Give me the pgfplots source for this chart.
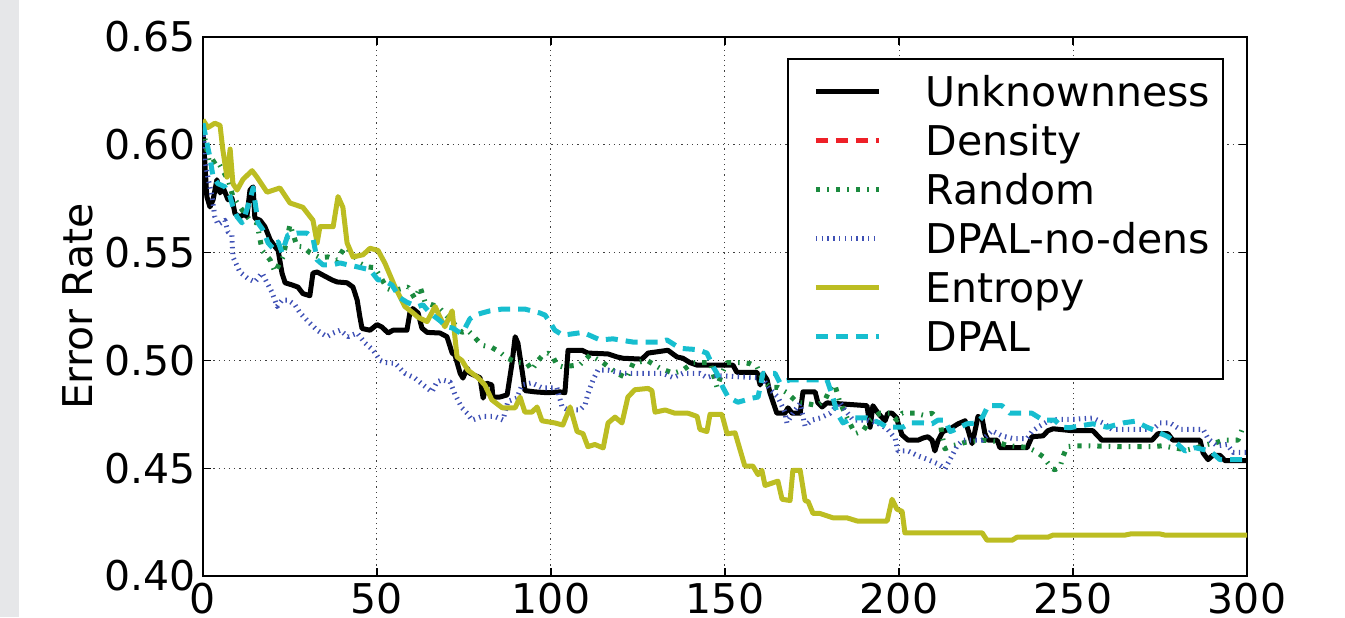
\documentclass[border=0pt]{standalone}
\usepackage{pgfplots}
\pgfplotsset{compat=1.18}
\usepackage{fontspec}
\setmainfont{DejaVu Sans}
\definecolor{cred}{RGB}{238,32,40}
\definecolor{cgreen}{RGB}{27,138,62}
\definecolor{cblue}{RGB}{63,81,181}
\definecolor{colive}{RGB}{188,189,34}
\definecolor{ccyan}{RGB}{23,190,207}
\definecolor{cstrip}{RGB}{230,231,233}
\newcommand{\bigfont}{\fontsize{20.5}{24}\selectfont}
\begin{document}
\begin{tikzpicture}
\begin{axis}[
  at={(0,0)}, anchor=south west,
  width=522pt, height=269.5pt, scale only axis,
  xmin=0, xmax=300, ymin=0.40, ymax=0.65,
  xtick={0,50,100,150,200,250,300},
  ytick={0.40,0.45,0.50,0.55,0.60,0.65},
  yticklabel style={/pgf/number format/.cd, fixed, fixed zerofill, precision=2},
  /pgf/number format/assume math mode=true,
  ticklabel style={font=\bigfont, inner sep=3.5pt},
  label style={font=\bigfont},
  ylabel={Error Rate},
  ylabel style={at={(axis description cs:-0.12,0.5)}, anchor=center},
  grid=major,
  major grid style={black!75, line width=0.5pt, dash pattern=on 0.6pt off 2pt},
  tick align=inside, major tick length=4pt,
  tick style={black, line width=0.6pt},
  axis line style={line width=0.8pt},
  every axis plot/.append style={line width=2.5pt, line join=round},
  legend image code/.code={\path[draw=none] (0pt,0pt) -- (62.5pt,0pt); \draw[#1] (7.5pt,7.5pt) -- (39pt,7.5pt);},
  legend style={at={(rel axis cs:0.5594,0.961)}, anchor=north west,
    draw=black, line width=0.8pt, inner xsep=6.5pt, inner ysep=9pt,
    row sep=5pt, font=\bigfont,
    nodes={inner sep=0pt, text height=15pt, text depth=4.5pt, anchor=base west}},
]
% Unknownness
\addplot[black] coordinates {
(0,0.606)(1.1,0.576)(2.0,0.5712)(2.9,0.5745)(4.0,0.5838)(4.9,0.5777)(5.7,0.5805)(7.2,0.5745)(8.3,0.5754)(9.2,0.568)(10.6,0.5666)(12.1,0.568)(12.6,0.5666)(13.5,0.579)(14.4,0.5805)(14.9,0.566)(16.4,0.565)(17.8,0.562)(19.3,0.556)(20.7,0.5527)(21.6,0.551)(22.7,0.5405)(23.6,0.536)(25.6,0.535)(27.3,0.534)(28.7,0.531)(30.7,0.530)(31.6,0.5405)(32.8,0.541)(35.1,0.539)(37.1,0.5373)(38.5,0.5364)(41.4,0.536)(43.1,0.534)(44.3,0.528)(45.1,0.520)(45.7,0.5148)(48.0,0.514)(50.0,0.5166)(51.4,0.5155)(53.2,0.5127)(54.6,0.514)(58.6,0.514)(59.5,0.5225)(60.3,0.524)(61.8,0.522)(62.9,0.515)(64.4,0.513)(68.1,0.5127)(70.1,0.511)(71.6,0.5034)(72.4,0.5025)(73.9,0.494)(74.7,0.4918)(75.9,0.4964)(76.7,0.494)(79.6,0.492)(80.5,0.4825)(81.6,0.4894)(83.0,0.4886)(83.3,0.483)(85.3,0.483)(87.4,0.484)(88.8,0.4987)(89.7,0.511)(90.5,0.508)(92.0,0.492)(92.5,0.486)(95.4,0.4854)(99.1,0.485)(102.6,0.4854)(104.0,0.485)(104.9,0.5047)(108.9,0.5047)(110.6,0.5034)(116.4,0.503)(119.0,0.5016)(120.7,0.501)(126.1,0.5006)(127.9,0.5034)(133.6,0.5047)(136.2,0.5016)(137.9,0.501)(139.9,0.499)(142.0,0.4978)(152.3,0.4978)(153.4,0.4945)(159.2,0.4945)(160.1,0.4886)(160.9,0.494)(162.1,0.491)(162.9,0.485)(164.9,0.4755)(167.2,0.4755)(168.1,0.478)(169.3,0.4755)(171.6,0.4755)(172.4,0.4854)(175.9,0.4854)(176.7,0.4803)(177.9,0.4784)(179.3,0.4803)(190.8,0.479)(191.7,0.469)(192.5,0.479)(194.0,0.4755)(196.0,0.472)(196.8,0.4755)(198.0,0.4755)(199.4,0.4733)(199.7,0.471)(200.9,0.4654)(202.6,0.463)(205.5,0.463)(206.9,0.464)(208.3,0.4646)(209.5,0.463)(210.3,0.458)(211.2,0.4627)(212.6,0.467)(214.7,0.4683)(217.0,0.4706)(219.0,0.472)(219.8,0.468)(221.0,0.4614)(221.8,0.467)(222.7,0.474)(223.9,0.473)(224.7,0.466)(225.6,0.463)(228.2,0.463)(229.0,0.4595)(236.8,0.4595)(238.2,0.4646)(241.4,0.465)(242.8,0.4674)(244.3,0.4683)(249.7,0.4674)(255.7,0.4674)(258.3,0.463)(272.7,0.463)(274.4,0.466)(277.3,0.466)(278.7,0.463)(286.5,0.463)(287.4,0.457)(288.8,0.454)(290.2,0.456)(292.2,0.456)(293.7,0.4535)(300,0.4535)
};
\addlegendentry{Unknownness}
\addlegendimage{cred, line width=2.5pt, dash pattern=on 6pt off 4pt}
\addlegendentry{Density}
% Random
\addplot[cgreen, dash pattern=on 2.2pt off 3.5pt on 0.8pt off 3.5pt] coordinates {
(0,0.608)(1.1,0.5977)(2.0,0.591)(4.0,0.593)(5.7,0.588)(7.2,0.5838)(8.6,0.576)(10.6,0.5712)(13.5,0.565)(15.5,0.5638)(16.4,0.556)(17.0,0.551)(19.3,0.5466)(20.7,0.541)(23.0,0.548)(25.0,0.563)(27.0,0.553)(28.7,0.5527)(30.7,0.550)(33.6,0.5477)(35.9,0.548)(38.5,0.5466)(40.8,0.5527)(42.8,0.550)(45.1,0.545)(47.1,0.5434)(49.4,0.543)(50.9,0.539)(52.9,0.5334)(54.6,0.5323)(58.9,0.534)(60.9,0.5287)(62.4,0.534)(63.8,0.527)(65.8,0.5258)(67.5,0.525)(69.0,0.5225)(71.6,0.518)(74.4,0.513)(76.1,0.514)(78.2,0.5104)(80.2,0.507)(83.0,0.506)(85.3,0.5038)(87.4,0.501)(90.5,0.499)(93.1,0.4987)(94.5,0.4955)(96.3,0.500)(97.7,0.5025)(99.1,0.5034)(100.6,0.5016)(101.7,0.4978)(103.4,0.497)(108.3,0.498)(111.2,0.5025)(114.9,0.499)(119.0,0.494)(121.8,0.4918)(123.6,0.4987)(127.6,0.500)(131.3,0.4964)(135.1,0.494)(137.9,0.4955)(140.8,0.499)(145.7,0.499)(147.7,0.4875)(149.1,0.494)(150.6,0.499)(155.2,0.499)(157.2,0.4985)(159.2,0.497)(160.9,0.491)(162.9,0.4875)(165.2,0.4875)(167.8,0.485)(170.7,0.4806)(173.6,0.480)(176.4,0.479)(178.7,0.4815)(180.7,0.4885)(181.6,0.4885)(183.0,0.4806)(185.1,0.4733)(187.4,0.466)(189.7,0.4674)(191.7,0.4723)(194.5,0.4755)(197.4,0.4755)(199.4,0.4723)(200.9,0.4755)(204.6,0.4755)(206.9,0.4746)(209.5,0.4755)(211.8,0.4718)(212.4,0.465)(213.2,0.459)(215.2,0.4604)(217.0,0.461)(219.0,0.462)(223.9,0.463)(227.6,0.4625)(231.3,0.4604)(234.8,0.460)(237.1,0.4595)(239.1,0.458)(241.4,0.4553)(244.0,0.4498)(244.8,0.4493)(246.3,0.4507)(247.1,0.4553)(248.3,0.460)(250.6,0.4604)(254.9,0.4604)(263.5,0.460)(273.0,0.460)(275.6,0.4604)(278.7,0.4595)(282.8,0.4585)(285.6,0.4595)(288.5,0.461)(291.4,0.462)(293.1,0.463)(297.4,0.463)(298.6,0.468)(300,0.468)
};
\addlegendentry{Random}
% DPAL-no-dens
\addplot[cblue, dash pattern=on 0.7pt off 2.2pt] coordinates {
(0,0.607)(0.6,0.593)(1.4,0.585)(2.6,0.576)(3.4,0.5666)(4.3,0.563)(6.3,0.565)(7.2,0.5596)(8.3,0.558)(8.6,0.548)(10.6,0.541)(12.9,0.538)(14.9,0.5364)(17.0,0.5405)(18.4,0.536)(19.8,0.5317)(21.3,0.525)(22.7,0.528)(24.4,0.528)(26.4,0.5258)(27.9,0.522)(30.7,0.5173)(32.8,0.514)(35.6,0.511)(37.4,0.5127)(39.4,0.514)(41.7,0.511)(44.3,0.5127)(46.6,0.508)(48.9,0.5047)(50.9,0.500)(52.3,0.499)(55.2,0.4987)(58.0,0.494)(60.9,0.4918)(63.2,0.4887)(65.8,0.4854)(67.2,0.490)(68.7,0.491)(71.0,0.490)(72.4,0.4843)(74.4,0.478)(75.9,0.4755)(77.3,0.4723)(80.2,0.474)(83.9,0.474)(86.2,0.4723)(87.6,0.481)(90.2,0.4825)(91.7,0.4887)(94.5,0.4896)(97.4,0.4873)(101.7,0.4873)(103.2,0.4784)(104.9,0.477)(108.3,0.477)(109.8,0.4794)(110.6,0.4845)(112.1,0.491)(113.5,0.4955)(116.4,0.4955)(120.7,0.494)(132.2,0.494)(135.1,0.492)(137.9,0.494)(142.8,0.494)(144.8,0.492)(146.6,0.493)(159.2,0.492)(160.9,0.4915)(162.9,0.4866)(165.2,0.483)(167.2,0.476)(167.8,0.471)(169.5,0.4755)(171.6,0.480)(173.0,0.4696)(175.0,0.4723)(177.3,0.4733)(180.2,0.4755)(183.0,0.4806)(184.5,0.477)(186.8,0.4723)(190.8,0.4723)(193.7,0.471)(196.6,0.4683)(198.9,0.4637)(199.7,0.458)(202.6,0.458)(205.5,0.4557)(208.3,0.454)(211.2,0.452)(213.2,0.4497)(215.2,0.4557)(216.7,0.4604)(218.4,0.463)(223.9,0.463)(226.7,0.4674)(229.6,0.465)(232.8,0.4637)(236.8,0.4637)(238.2,0.467)(239.9,0.469)(242.8,0.4718)(245.7,0.4727)(250.6,0.4727)(255.7,0.4733)(258.6,0.471)(261.2,0.468)(273.0,0.468)(275.0,0.471)(277.9,0.471)(280.7,0.468)(287.4,0.468)(288.8,0.4637)(291.4,0.4604)(294.3,0.461)(296.0,0.4573)(300,0.4573)
};
\addlegendentry{DPAL-no-dens}
% Entropy
\addplot[colive] coordinates {
(0,0.6116)(1.4,0.608)(3.4,0.610)(4.9,0.609)(5.7,0.5977)(6.9,0.585)(7.8,0.598)(8.6,0.582)(9.8,0.579)(11.5,0.584)(14.1,0.588)(15.5,0.585)(18.4,0.578)(22.1,0.580)(25.0,0.573)(28.7,0.571)(31.6,0.565)(32.8,0.5545)(33.6,0.562)(37.4,0.562)(38.8,0.576)(40.2,0.571)(41.4,0.5545)(43.1,0.548)(46.0,0.549)(48.0,0.552)(50.3,0.551)(52.3,0.545)(55.2,0.534)(58.0,0.525)(60.0,0.5225)(61.8,0.520)(64.4,0.518)(66.7,0.525)(68.1,0.520)(69.5,0.5156)(71.6,0.523)(73.0,0.5016)(74.4,0.500)(76.1,0.4955)(79.0,0.492)(81.0,0.4886)(83.0,0.4817)(86.0,0.478)(89.7,0.478)(91.1,0.483)(92.5,0.476)(94.5,0.476)(96.0,0.4784)(97.4,0.472)(101.1,0.471)(103.4,0.470)(105.5,0.4784)(107.5,0.467)(109.2,0.466)(110.6,0.460)(112.6,0.461)(115.0,0.4594)(116.4,0.471)(118.4,0.4737)(120.4,0.471)(122.1,0.483)(124.1,0.4864)(127.9,0.487)(129.0,0.486)(129.9,0.476)(132.8,0.477)(135.6,0.4755)(139.4,0.4755)(142.0,0.474)(142.8,0.468)(144.8,0.467)(145.7,0.475)(149.1,0.475)(150.6,0.466)(152.9,0.4664)(155.7,0.451)(158.0,0.451)(159.5,0.447)(160.6,0.449)(161.5,0.442)(165.2,0.444)(166.4,0.4356)(168.7,0.435)(169.5,0.449)(171.6,0.449)(173.0,0.435)(173.9,0.4345)(175.3,0.429)(177.3,0.429)(181.0,0.427)(185.0,0.427)(188.0,0.4255)(196.6,0.4255)(198.0,0.4356)(199.4,0.431)(200.9,0.430)(201.7,0.420)(223.9,0.420)(225.3,0.4166)(232.5,0.4166)(233.9,0.418)(242.8,0.418)(244.3,0.419)(265.0,0.419)(266.5,0.4195)(275.0,0.4195)(276.4,0.419)(300,0.419)
};
\addlegendentry{Entropy}
% DPAL
\addplot[ccyan, dash pattern=on 6pt off 4pt] coordinates {
(0,0.610)(2.0,0.594)(2.9,0.585)(4.3,0.582)(6.3,0.5805)(7.8,0.576)(8.6,0.5712)(9.8,0.5666)(11.2,0.5638)(12.1,0.5675)(13.5,0.5745)(14.4,0.580)(15.8,0.5638)(17.2,0.5606)(18.7,0.5545)(20.1,0.552)(21.6,0.555)(22.7,0.550)(24.4,0.5582)(27.0,0.559)(29.9,0.559)(31.6,0.5568)(32.8,0.5466)(34.5,0.5443)(37.1,0.5443)(39.4,0.5452)(41.7,0.5443)(44.3,0.5434)(48.0,0.542)(50.3,0.5373)(51.7,0.5373)(54.3,0.535)(56.6,0.529)(58.6,0.527)(60.3,0.5258)(61.8,0.525)(63.2,0.5258)(65.2,0.522)(68.1,0.5184)(70.1,0.5155)(71.8,0.515)(73.9,0.5127)(75.3,0.515)(76.7,0.5193)(78.2,0.521)(80.2,0.522)(82.5,0.523)(85.9,0.5238)(92.5,0.5238)(96.8,0.522)(98.3,0.521)(99.7,0.5177)(101.1,0.514)(103.4,0.5117)(109.2,0.513)(114.1,0.5095)(117.8,0.510)(123.6,0.5085)(131.3,0.5085)(133.3,0.5095)(137.1,0.5056)(142.0,0.505)(144.8,0.5034)(146.6,0.497)(147.7,0.494)(149.4,0.4875)(150.9,0.483)(153.7,0.4806)(157.8,0.4825)(159.5,0.483)(160.9,0.494)(164.4,0.494)(165.8,0.4895)(168.7,0.491)(179.3,0.491)(181.0,0.483)(182.2,0.4755)(183.9,0.471)(186.8,0.4733)(190.8,0.4733)(194.5,0.471)(196.6,0.469)(201.1,0.469)(203.2,0.471)(206.9,0.471)(209.5,0.4706)(211.2,0.4723)(213.2,0.4723)(214.7,0.467)(216.7,0.4683)(219.5,0.4706)(222.4,0.471)(224.1,0.474)(225.6,0.479)(229.6,0.479)(231.9,0.4755)(238.2,0.4755)(241.4,0.4723)(244.8,0.4723)(246.8,0.469)(249.1,0.4688)(255.7,0.4706)(259.8,0.469)(264.4,0.471)(267.8,0.4718)(271.3,0.469)(273.6,0.4674)(277.3,0.4646)(279.9,0.4614)(282.2,0.458)(285.1,0.4595)(289.4,0.458)(292.2,0.454)(300,0.454)
};
\addlegendentry{DPAL}
\end{axis}
\pgfresetboundingbox
\fill[cstrip] (-101.5pt,-20.5pt) rectangle (-92pt,288pt);
\useasboundingbox (-101.5pt,-20.5pt) rectangle (571pt,288pt);
\end{tikzpicture}
\end{document}
